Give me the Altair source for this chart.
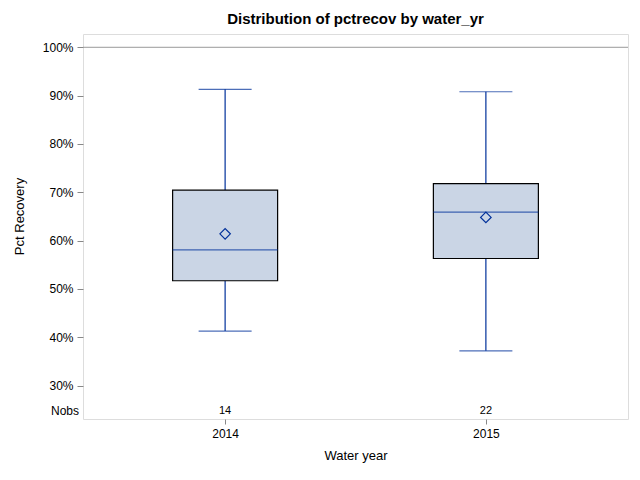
import altair as alt
import pandas as pd

years = ["2014", "2015"]
nobs = [14, 22]
whisker_low = [41.3, 37.2]
q1 = [51.7, 56.3]
median = [58.1, 65.9]
q3 = [70.45, 71.8]
whisker_high = [91.3, 90.8]
mean = [61.4, 64.8]
y_ticks = [30, 40, 50, 60, 70, 80, 90, 100]
ref_value = [100]
nobs_row = 24.7

df = pd.DataFrame({
    "year": years, "nobs": [str(n) for n in nobs], "lo": whisker_low, "q1": q1,
    "med": median, "q3": q3, "hi": whisker_high, "mean": mean,
    "nrow": [nobs_row] * len(years),
})

FONT = "Liberation Sans"
BLUE = "#00309A"
W, H = 545, 385

xenc = alt.X("year:O", scale=alt.Scale(type="point", padding=0.545),
             axis=alt.Axis(title="Water year", labelAngle=0, labelFontSize=12,
                           labelColor="#000", titleFontSize=13, titleColor="#000",
                           titleFontWeight="normal", tickColor="#888", domain=False,
                           tickSize=5, labelPadding=4, titlePadding=10,
                           labelFont=FONT, titleFont=FONT))
yscale = alt.Scale(domain=[23.1, 102.75], nice=False, zero=False)
yaxis = alt.Axis(title="Pct Recovery", values=y_ticks, labelExpr="datum.value + '%'",
                 labelFontSize=12, labelColor="#000", titleFontSize=13,
                 titleColor="#000", titleFontWeight="normal", tickColor="#888",
                 domain=False, grid=False, tickSize=6, labelPadding=4,
                 titlePadding=16, titleY=182, labelFont=FONT, titleFont=FONT)

base = alt.Chart(df).encode(x=xenc)

ref = alt.Chart(pd.DataFrame({"v": ref_value})).mark_rule(
    color="#999", strokeWidth=1).encode(y=alt.Y("v:Q", scale=yscale, axis=yaxis))

upper = base.mark_rule(color=BLUE, strokeWidth=1.2).encode(
    y=alt.Y("q3:Q", scale=yscale, axis=yaxis), y2="hi:Q")
lower = base.mark_rule(color=BLUE, strokeWidth=1.2).encode(
    y=alt.Y("lo:Q", scale=yscale), y2="q1:Q")
box = base.mark_bar(size=105, fill="#CAD5E5", stroke="#000", strokeWidth=1.2).encode(
    y=alt.Y("q1:Q", scale=yscale), y2="q3:Q")
med = base.mark_tick(size=105, thickness=1.2, color=BLUE, orient="horizontal").encode(
    y=alt.Y("med:Q", scale=yscale))
cap_hi = base.mark_tick(size=53, thickness=1.2, color=BLUE, orient="horizontal").encode(
    y=alt.Y("hi:Q", scale=yscale))
cap_lo = base.mark_tick(size=53, thickness=1.2, color=BLUE, orient="horizontal").encode(
    y=alt.Y("lo:Q", scale=yscale))
mn = base.mark_point(shape="diamond", size=110, color=BLUE, filled=False,
                     strokeWidth=1.2, opacity=1).encode(y=alt.Y("mean:Q", scale=yscale))
ntext = base.mark_text(fontSize=11, font=FONT, color="#000").encode(
    y=alt.Y("nrow:Q", scale=yscale), text="nobs:N")
nlabel = alt.Chart(pd.DataFrame({"t": ["Nobs"], "nrow": [nobs_row]})).mark_text(
    fontSize=12, font=FONT, color="#000", align="right").encode(
    x=alt.value(-4), y=alt.Y("nrow:Q", scale=yscale), text="t:N")

chart = alt.layer(ref, upper, lower, box, med, cap_hi, cap_lo, mn, ntext, nlabel).properties(
    width=W, height=H,
    title=alt.TitleParams("Distribution of pctrecov by water_yr", fontSize=15,
                          fontWeight="bold", font=FONT, color="#000", offset=7),
    autosize=alt.AutoSizeParams(type="none"),
    padding={"left": 75, "top": 26, "right": 4, "bottom": 59},
).configure_view(stroke="#888", strokeWidth=1).configure(background="white")

chart.save("out.html", embed_options={"renderer": "svg", "actions": False})
